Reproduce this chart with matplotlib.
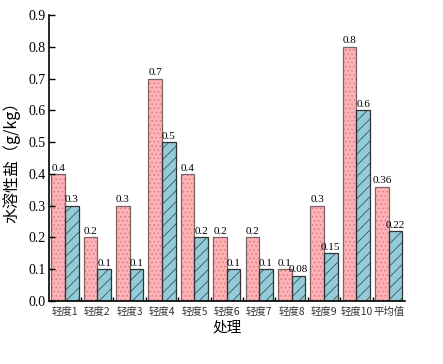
import numpy as np
import matplotlib.pyplot as plt
from matplotlib.ticker import FixedLocator

plt.rcParams['hatch.linewidth'] = 0.6

cats = ['轻度1', '轻度2', '轻度3', '轻度4', '轻度5', '轻度6', '轻度7', '轻度8', '轻度9', '轻度10', '平均值']
s1 = [0.4, 0.2, 0.3, 0.7, 0.4, 0.2, 0.2, 0.1, 0.3, 0.8, 0.36]
s2 = [0.3, 0.1, 0.1, 0.5, 0.2, 0.1, 0.1, 0.08, 0.15, 0.6, 0.22]
yticks = [0.0, 0.1, 0.2, 0.3, 0.4, 0.5, 0.6, 0.7, 0.8, 0.9]

serif = ['Liberation Serif', 'DejaVu Serif']
cjk = ['Noto Sans CJK SC', 'DejaVu Sans']

fig = plt.figure(figsize=(4.43, 3.64), dpi=100)
ax = fig.add_axes([0.11, 0.173, 0.804, 0.786])

x = np.arange(len(cats))
w = 0.42
# fill + hatch first, then outline on top
ax.bar(x - w / 2, s1, w, color='#FFB1B6', edgecolor='#D27F88', linewidth=0, hatch='....')
ax.bar(x + w / 2, s2, w, color='#93CCD8', edgecolor='#3A5560', linewidth=0, hatch='///')
b1 = ax.bar(x - w / 2, s1, w, color='none', edgecolor='#7A6465', linewidth=0.9)
b2 = ax.bar(x + w / 2, s2, w, color='none', edgecolor='#333333', linewidth=0.9)

for bars, vals in ((b1, s1), (b2, s2)):
    for r, v in zip(bars, vals):
        ax.text(r.get_x() + r.get_width() / 2, v + 0.004, f'{v:g}', ha='center', va='bottom',
                fontsize=8, family=serif)

ax.set_xlim(-0.5, len(cats) - 0.5)
ax.set_ylim(0, 0.9)
ax.set_yticks(yticks)
ax.set_yticklabels([f'{t:.1f}' for t in yticks], family=serif, fontsize=10)
ax.set_xticks(x)
ax.set_xticklabels(cats, family=cjk, fontsize=7.5, color='#333333')
ax.tick_params(axis='x', length=0, pad=4)
ax.xaxis.set_minor_locator(FixedLocator(np.arange(0.5, len(cats) - 0.5, 1)))
ax.tick_params(axis='x', which='minor', direction='in', length=3, width=1)
ax.tick_params(axis='y', direction='in', length=4, width=1, pad=2)

for s in ('top', 'right'):
    ax.spines[s].set_visible(False)
ax.spines['left'].set_linewidth(1.2)
ax.spines['bottom'].set_linewidth(1.2)

ax.set_ylabel('水溶性盐（g/kg）', family=cjk, fontsize=11.5)
ax.yaxis.set_label_coords(-0.081, 0.5)
ax.set_xlabel('处理', family=cjk, fontsize=10.5, labelpad=3)

fig.savefig('out.png', dpi=100)
